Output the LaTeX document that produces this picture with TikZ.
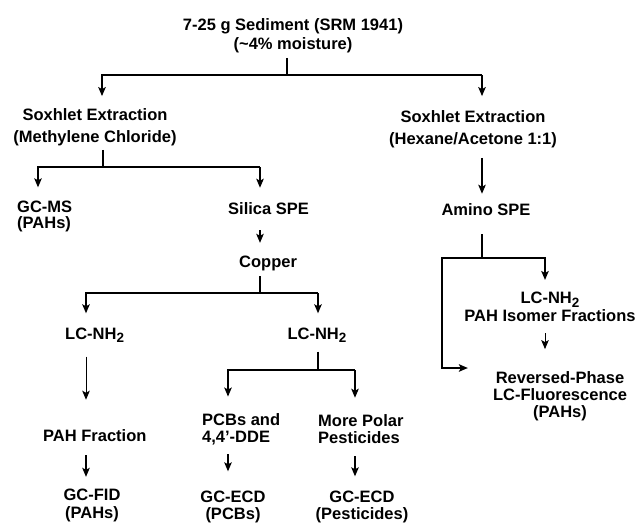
\documentclass[tikz,border=0pt]{standalone}
\usepackage{fontspec}
\setmainfont{Liberation Sans}
\usetikzlibrary{arrows.meta,positioning,calc}
\newcommand{\subtwo}{\raisebox{-3.5pt}{\fontsize{13.5}{13.5}\selectfont 2}}
\tikzset{
  lbl/.style={font=\fontsize{16.5}{17}\selectfont\bfseries,align=center,inner sep=0pt},
  tight/.style={font=\fontsize{16.5}{16}\selectfont\bfseries},
  link/.style={draw=black,line width=1.5pt},
  arrow/.style={-{Stealth[length=9pt,width=7.5pt,inset=2pt]},draw=black,line width=1.5pt},
  thinarrow/.style={arrow,line width=1pt}
}
\begin{document}
\begin{tikzpicture}[x=1pt,y=-1pt]
  \useasboundingbox (0,0) rectangle (638,523);
  % nodes
  \node[lbl,font=\fontsize{16.5}{19}\selectfont\bfseries] (sed) at (293,35.5) {7-25 g Sediment (SRM 1941)\\(\textasciitilde4\% moisture)};
  \node[lbl,font=\fontsize{16.5}{22}\selectfont\bfseries] (soxL) at (95,127) {Soxhlet Extraction\\(Methylene Chloride)};
  \node[lbl,font=\fontsize{16.5}{22}\selectfont\bfseries] (soxR) at (473,129) {Soxhlet Extraction\\(Hexane/Acetone 1:1)};
  \node[lbl,tight,align=left,anchor=west] (gcms) at (17,216) {GC-MS\\(PAHs)};
  \node[lbl,anchor=west] (silica) at (228,209) {Silica SPE};
  \node[lbl,anchor=west] (copper) at (239,263.5) {Copper};
  \node[lbl] (amino) at (486,210) {Amino SPE};
  \node[lbl,anchor=west] (lcL) at (65,335) {LC-NH\subtwo};
  \node[lbl] (lcM) at (317,335) {LC-NH\subtwo};
  \node[lbl,font=\fontsize{16.5}{18}\selectfont\bfseries] (lcR) at (550,307) {LC-NH\subtwo\\PAH Isomer Fractions};
  \node[lbl] (rp) at (560,396) {Reversed-Phase\\LC-Fluorescence\\(PAHs)};
  \node[lbl,anchor=west] (pahfr) at (43,436) {PAH Fraction};
  \node[lbl,align=left,anchor=west] (pcb) at (202,429.5) {PCBs and\\4,4'-DDE};
  \node[lbl,align=left,anchor=west] (polar) at (318,429.5) {More Polar\\Pesticides};
  \node[lbl,font=\fontsize{16.5}{18}\selectfont\bfseries] (gcfid) at (92,505.5) {GC-FID\\(PAHs)};
  \node[lbl,font=\fontsize{16.5}{17}\selectfont\bfseries] (gcecdA) at (233,506.5) {GC-ECD\\(PCBs)};
  \node[lbl,font=\fontsize{16.5}{17}\selectfont\bfseries] (gcecdB) at (362,506.5) {GC-ECD\\(Pesticides)};
  % branch points
  \coordinate (t0) at (287,75); \coordinate (tL) at (102,75); \coordinate (tR) at (482,75);
  \coordinate (s0) at (103,167); \coordinate (sL) at (38,167); \coordinate (sR) at (260,167);
  \coordinate (c0) at (260,293); \coordinate (cL) at (86,293); \coordinate (cR) at (318,293);
  \coordinate (m0) at (318,370); \coordinate (mL) at (228,370); \coordinate (mR) at (355,370);
  \coordinate (a0) at (482,258); \coordinate (aL) at (442,258); \coordinate (aR) at (545,258);
  \coordinate (aB) at (442,368);
  % sediment split
  \draw[link,shorten <=5pt] (t0 |- sed.south) -- (t0);
  \draw[arrow,shorten >=12pt] (tR) -- (tL) -- (tL |- soxL.north);
  \draw[arrow,shorten >=14pt] (tR) -- (tR |- soxR.north);
  % methylene chloride branch
  \draw[link,shorten <=4pt] (s0 |- soxL.south) -- (s0);
  \draw[arrow,shorten >=13pt] (sR) -- (sL) -- (sL |- gcms.north);
  \draw[arrow,shorten >=15pt] (sR) -- (sR |- silica.north);
  \draw[arrow,shorten <=15pt,shorten >=13pt] (silica.south -| sR) -- (sR |- copper.north);
  \draw[link,shorten <=5pt] (c0 |- copper.south) -- (c0);
  \draw[arrow,shorten >=14pt] (cR) -- (cL) -- (cL |- lcL.north);
  \draw[arrow,shorten >=14pt] (cR) -- (cR |- lcM.north);
  \draw[thinarrow,shorten <=14pt,shorten >=30pt] (lcL.south -| cL) -- (cL |- pahfr.north);
  \draw[arrow,shorten <=13pt,shorten >=12pt] (pahfr.south -| cL) -- (cL |- gcfid.north);
  \draw[link,shorten <=9pt] (m0 |- lcM.south) -- (m0);
  \draw[arrow,shorten >=17pt] (mR) -- (mL) -- (mL |- pcb.north);
  \draw[arrow,shorten >=17pt] (mR) -- (mR |- polar.north);
  \draw[arrow,shorten <=9pt,shorten >=19pt] (pcb.south -| mL) -- (mL |- gcecdA.north);
  \draw[arrow,shorten <=12pt,shorten >=14pt] (polar.south -| mR) -- (mR |- gcecdB.north);
  % hexane/acetone branch
  \draw[arrow,shorten <=10pt,shorten >=10pt] (soxR.south -| tR) -- (tR |- amino.north);
  \draw[link,shorten <=18pt] (a0 |- amino.south) -- (a0);
  \draw[arrow,shorten >=12pt] (aL) -- (aR) -- (aR |- lcR.north);
  \draw[arrow,shorten >=25pt] (aR) -- (aL) -- (aB) -- (aB -| rp.west);
  \draw[thinarrow,shorten <=11pt,shorten >=22pt] (lcR.south -| aR) -- (aR |- rp.north);
\end{tikzpicture}
\end{document}
